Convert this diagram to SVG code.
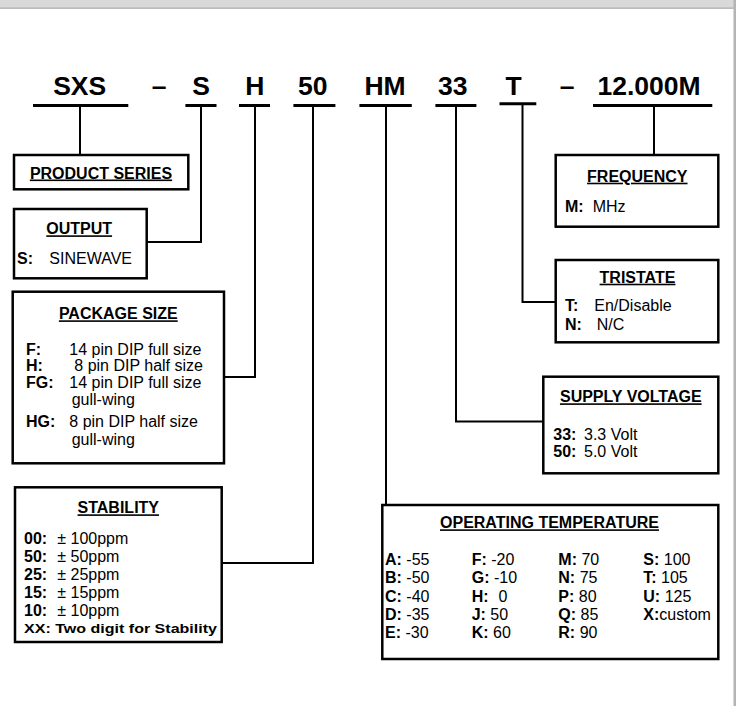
<svg xmlns="http://www.w3.org/2000/svg" width="741" height="706" viewBox="0 0 741 706">
<style>
text{font-family:"Liberation Sans",Arial,sans-serif;fill:#000}
.hd{font-size:26.5px;font-weight:bold;text-anchor:middle}
.tt{font-size:16px;font-weight:bold;text-anchor:middle;text-decoration:underline}
.b{font-size:16px}
.k{font-weight:bold}
.box{fill:#fff;stroke:#000;stroke-width:2.5}
.bar{stroke:#000;stroke-width:3}
.con{fill:none;stroke:#000;stroke-width:2}
</style>
<rect x="0" y="0" width="741" height="706" fill="#fff"/>
<rect x="0" y="0" width="734" height="7.5" fill="#d9d9d9"/>
<rect x="0" y="7.3" width="734" height="1.6" fill="#b4b4b4"/>
<rect x="733.5" y="0" width="2.5" height="706" fill="#b4b4b4"/>

<g id="header">
<text class="hd" x="79.7" y="95">SXS</text>
<text class="hd" x="159" y="95">–</text>
<text class="hd" x="201" y="95">S</text>
<text class="hd" x="254.7" y="95">H</text>
<text class="hd" x="312.7" y="95">50</text>
<text class="hd" x="385" y="95">HM</text>
<text class="hd" x="452.8" y="95">33</text>
<text class="hd" x="513.5" y="95">T</text>
<text class="hd" x="567" y="95">–</text>
<text class="hd" x="649" y="95">12.000M</text>
<line class="bar" x1="33" y1="105.5" x2="128.3" y2="105.5"/>
<line class="bar" x1="185.4" y1="105.5" x2="216.5" y2="105.5"/>
<line class="bar" x1="239" y1="105.5" x2="270" y2="105.5"/>
<line class="bar" x1="293.4" y1="105.5" x2="335.4" y2="105.5"/>
<line class="bar" x1="359.4" y1="105.5" x2="411.8" y2="105.5"/>
<line class="bar" x1="435.4" y1="105.5" x2="476.4" y2="105.5"/>
<line class="bar" x1="499.5" y1="103.8" x2="536.3" y2="103.8"/>
<line class="bar" x1="593" y1="105.5" x2="712.3" y2="105.5"/>
</g>

<g id="connectors">
<path class="con" d="M80 106 V155"/>
<path class="con" d="M201 106 V242 H146"/>
<path class="con" d="M255 106 V377 H224"/>
<path class="con" d="M313 106 V563 H222"/>
<path class="con" d="M386 106 V505"/>
<path class="con" d="M456 106 V421.5 H543"/>
<path class="con" d="M522.5 104 V302 H556"/>
<path class="con" d="M654 106 V155"/>
</g>

<g id="product-series">
<rect class="box" x="14" y="155" width="174.3" height="34.3"/>
<text class="tt" x="101" y="178.5">PRODUCT SERIES</text>
</g>

<g id="output">
<rect class="box" x="14" y="209" width="132.7" height="69.3"/>
<text class="tt" x="79.2" y="234.3">OUTPUT</text>
<text class="b" y="264"><tspan class="k" x="17">S:</tspan><tspan x="49.3">SINEWAVE</tspan></text>
</g>

<g id="package-size">
<rect class="box" x="12.7" y="291.7" width="211.3" height="171.6"/>
<text class="tt" x="118.3" y="319.3">PACKAGE SIZE</text>
<text class="b" y="355"><tspan class="k" x="26">F:</tspan><tspan x="69.3">14 pin DIP full size</tspan></text>
<text class="b" y="371"><tspan class="k" x="26">H:</tspan><tspan x="74.3">8 pin DIP half size</tspan></text>
<text class="b" y="387.5"><tspan class="k" x="26">FG:</tspan><tspan x="69.3">14 pin DIP full size</tspan></text>
<text class="b" x="71.7" y="405">gull-wing</text>
<text class="b" y="427"><tspan class="k" x="26">HG:</tspan><tspan x="69.3">8 pin DIP half size</tspan></text>
<text class="b" x="71.7" y="445">gull-wing</text>
</g>

<g id="stability">
<rect class="box" x="15" y="487.3" width="206.7" height="154.7"/>
<text class="tt" x="118.3" y="513.3">STABILITY</text>
<text class="b" y="544"><tspan class="k" x="24">00:</tspan><tspan x="57.3">± 100ppm</tspan></text>
<text class="b" y="562"><tspan class="k" x="24">50:</tspan><tspan x="57.3">± 50ppm</tspan></text>
<text class="b" y="580"><tspan class="k" x="24">25:</tspan><tspan x="57.3">± 25ppm</tspan></text>
<text class="b" y="598"><tspan class="k" x="24">15:</tspan><tspan x="57.3">± 15ppm</tspan></text>
<text class="b" y="616"><tspan class="k" x="24">10:</tspan><tspan x="57.3">± 10ppm</tspan></text>
<text x="24" y="633" font-size="13" font-weight="bold" textLength="193" lengthAdjust="spacingAndGlyphs">XX:  Two digit for Stability</text>
</g>

<g id="frequency">
<rect class="box" x="555.7" y="155" width="162.6" height="71.7"/>
<text class="tt" x="637.3" y="181.7">FREQUENCY</text>
<text class="b" y="211.7"><tspan class="k" x="565">M:</tspan><tspan x="592.7">MHz</tspan></text>
</g>

<g id="tristate">
<rect class="box" x="555.7" y="260" width="162.6" height="82.3"/>
<text class="tt" x="637.5" y="282.7">TRISTATE</text>
<text class="b" y="310.7"><tspan class="k" x="565">T:</tspan><tspan x="594.3">En/Disable</tspan></text>
<text class="b" y="330"><tspan class="k" x="565">N:</tspan><tspan x="596.7">N/C</tspan></text>
</g>

<g id="supply-voltage">
<rect class="box" x="543.3" y="376.7" width="175" height="96.6"/>
<text class="tt" x="630.8" y="402.3">SUPPLY VOLTAGE</text>
<text class="b" y="440"><tspan class="k" x="553.3">33:</tspan><tspan x="584">3.3 Volt</tspan></text>
<text class="b" y="457.3"><tspan class="k" x="553.3">50:</tspan><tspan x="584">5.0 Volt</tspan></text>
</g>

<g id="operating-temperature">
<rect class="box" x="382.3" y="505" width="336" height="154"/>
<text class="tt" x="549.5" y="528.3">OPERATING TEMPERATURE</text>
<text class="b" x="385" y="565"><tspan class="k">A:</tspan> -55</text>
<text class="b" x="385" y="583.3"><tspan class="k">B:</tspan> -50</text>
<text class="b" x="385" y="601.7"><tspan class="k">C:</tspan> -40</text>
<text class="b" x="385" y="620"><tspan class="k">D:</tspan> -35</text>
<text class="b" x="385" y="638.3"><tspan class="k">E:</tspan> -30</text>
<text class="b" x="471.7" y="565"><tspan class="k">F:</tspan> -20</text>
<text class="b" x="471.7" y="583.3"><tspan class="k">G:</tspan> -10</text>
<text class="b" y="601.7"><tspan class="k" x="471.7">H:</tspan><tspan x="498.5">0</tspan></text>
<text class="b" x="471.7" y="620"><tspan class="k">J:</tspan> 50</text>
<text class="b" x="471.7" y="638.3"><tspan class="k">K:</tspan> 60</text>
<text class="b" x="558.3" y="565"><tspan class="k">M:</tspan> 70</text>
<text class="b" x="558.3" y="583.3"><tspan class="k">N:</tspan> 75</text>
<text class="b" x="558.3" y="601.7"><tspan class="k">P:</tspan> 80</text>
<text class="b" x="558.3" y="620"><tspan class="k">Q:</tspan> 85</text>
<text class="b" x="558.3" y="638.3"><tspan class="k">R:</tspan> 90</text>
<text class="b" x="643.3" y="565"><tspan class="k">S:</tspan> 100</text>
<text class="b" x="643.3" y="583.3"><tspan class="k">T:</tspan> 105</text>
<text class="b" x="643.3" y="601.7"><tspan class="k">U:</tspan> 125</text>
<text class="b" x="643.3" y="620"><tspan class="k">X:</tspan>custom</text>
</g>
</svg>
